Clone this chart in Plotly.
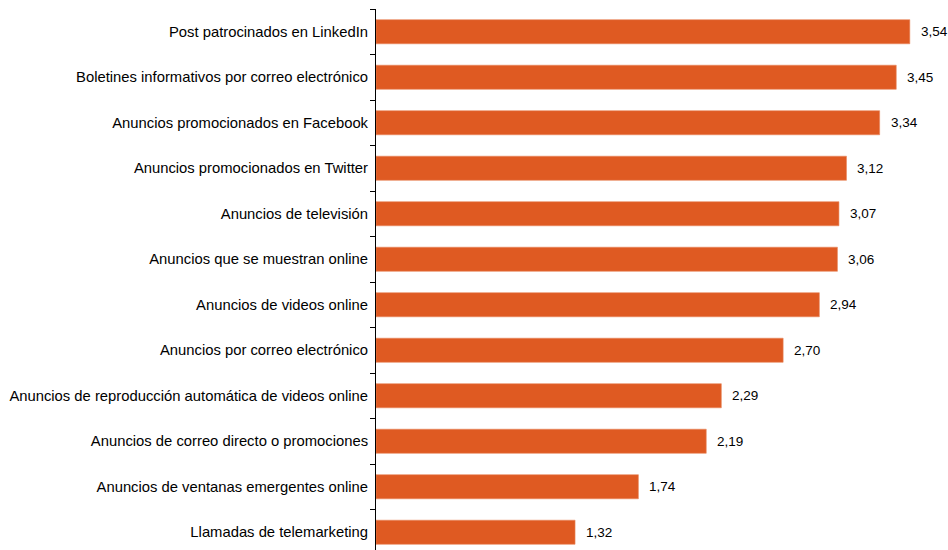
import plotly.graph_objects as go

categories = [
    "Post patrocinados en LinkedIn",
    "Boletines informativos por correo electrónico",
    "Anuncios promocionados en Facebook",
    "Anuncios promocionados en Twitter",
    "Anuncios de televisión",
    "Anuncios que se muestran online",
    "Anuncios de videos online",
    "Anuncios por correo electrónico",
    "Anuncios de reproducción automática de videos online",
    "Anuncios de correo directo o promociones",
    "Anuncios de ventanas emergentes online",
    "Llamadas de telemarketing",
]
values = [3.54, 3.45, 3.34, 3.12, 3.07, 3.06, 2.94, 2.70, 2.29, 2.19, 1.74, 1.32]

FONT = "Liberation Sans, Arial, sans-serif"

fig = go.Figure(
    go.Bar(
        x=values,
        y=categories,
        orientation="h",
        marker=dict(color="#DF5A22", line=dict(color="#E8865C", width=0.6)),
        width=0.53,
        cliponaxis=False,
        hoverinfo="skip",
    )
)

for c, v in zip(categories, values):
    fig.add_annotation(
        x=v, y=c, xref="x", yref="y",
        text=f"{v:.2f}".replace(".", ","),
        showarrow=False, xanchor="left", yanchor="middle",
        xshift=9,
        font=dict(family=FONT, size=13.5, color="#000000"),
    )

fig.update_layout(
    width=948,
    height=556,
    margin=dict(l=376, r=2, t=9, b=0.5, autoexpand=False),
    paper_bgcolor="white",
    plot_bgcolor="white",
    showlegend=False,
    font=dict(family=FONT, size=14.8, color="#000000"),
    xaxis=dict(
        range=[0, 3.78],
        visible=False,
        showgrid=False,
        zeroline=False,
    ),
    yaxis=dict(
        autorange="reversed",
        type="category",
        automargin=False,
        showline=True,
        linecolor="#000000",
        linewidth=1,
        ticks="outside",
        tickson="boundaries",
        ticklen=5,
        tickcolor="#000000",
        ticklabelstandoff=4,
        showgrid=False,
        tickfont=dict(family=FONT, size=14.8, color="#000000"),
    ),
)

fig.write_html(
    "out.html",
    config={"displayModeBar": False},
    post_script="document.body.style.margin='0';document.body.style.overflow='hidden';",
)
